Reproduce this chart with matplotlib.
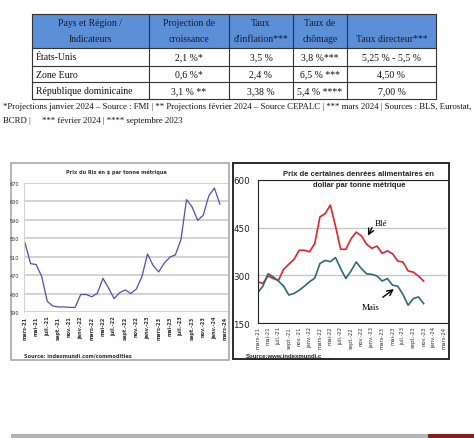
import matplotlib.pyplot as plt
from matplotlib.patches import Rectangle

W, H = 474, 439

# ---- table data ----
headers = ["Pays et Région /\nIndicateurs", "Projection de\ncroissance", "Taux\nd'inflation***",
           "Taux de\nchômage", "Taux directeur***"]
pays = ["États-Unis", "Zone Euro", "République dominicaine"]
croissance = ["2,1 %*", "0,6 %*", "3,1 % **"]
inflation = ["3,5 %", "2,4 %", "3,38 %"]
chomage = ["3,8 %***", "6,5 % ***", "5,4 % ****"]
directeur = ["5,25 % - 5,5 %", "4,50 %", "7,00 %"]
notes = ["*Projections janvier 2024 – Source : FMI | ** Projections février 2024 – Source CEPALC | *** mars 2024 | Sources : BLS, Eurostat,",
         "BCRD |     *** février 2024 | **** septembre 2023"]

# ---- rice price, monthly from mars-21 ----
riz = [540, 495, 493, 467, 413, 403, 401, 401, 400, 400, 428, 428,
       423, 431, 463, 442, 419, 432, 438, 430, 440, 467, 516, 491,
       477, 496, 509, 514, 547, 634, 618, 589, 600, 642, 659, 624]

# ---- wheat / maize, monthly from mars-21 ----
ble = [280, 274, 298, 290, 284, 319, 335, 350, 379, 379, 374, 400,
       484, 494, 521, 455, 382, 382, 415, 436, 424, 398, 385, 392,
       369, 377, 368, 345, 342, 314, 310, 298, 282]
mais = [245, 266, 305, 295, 282, 266, 238, 243, 253, 266, 280, 291,
        337, 347, 343, 356, 321, 290, 314, 342, 321, 305, 303, 298,
        282, 290, 269, 266, 240, 206, 227, 232, 211]

mois = ["mars-21", "mai-21", "juil.-21", "sept.-21", "nov.-21", "janv.-22", "mars-22",
        "mai-22", "juil.-22", "sept.-22", "nov.-22", "janv.-23", "mars-23", "mai-23",
        "juil.-23", "sept.-23", "nov.-23", "janv.-24", "mars-24"]


def rect(l, t, r, b):
    return [l / W, 1 - b / H, (r - l) / W, (b - t) / H]


fig = plt.figure(figsize=(4.74, 4.39), dpi=100)
bg = fig.add_axes([0, 0, 1, 1])
bg.set_xlim(0, W)
bg.set_ylim(H, 0)
bg.axis('off')

serif = 'Liberation Serif'
sans = 'Liberation Sans'

# table
cols = [32, 149, 229, 293, 347, 436]
rows = [15, 49, 67, 83, 100]
bg.add_patch(Rectangle((cols[0], rows[0]), cols[-1] - cols[0], rows[1] - rows[0],
                       fc='#5b8fd8', ec='none'))
for y in rows:
    bg.plot([cols[0], cols[-1]], [y, y], color='#333333', lw=0.8)
for x in cols:
    bg.plot([x, x], [rows[0], rows[-1]], color='#333333', lw=0.8)

for j, h in enumerate(headers):
    lines = h.split('\n')
    if len(lines) == 1:
        lines = ['', lines[0]]
    cx = (cols[j] + cols[j + 1]) / 2
    for k, s in enumerate(lines):
        bg.text(cx, 23 + 16 * k, s, ha='center', va='center', fontsize=7,
                family=serif, color='#1a1a2a')

body = [pays, croissance, inflation, chomage, directeur]
for i in range(3):
    cy = (rows[i + 1] + rows[i + 2]) / 2
    for j, col in enumerate(body):
        if j == 0:
            bg.text(cols[0] + 4, cy, col[i], ha='left', va='center', fontsize=7,
                    family=serif, color='#111111')
        else:
            bg.text((cols[j] + cols[j + 1]) / 2, cy, col[i], ha='center', va='center',
                    fontsize=7, family=serif, color='#111111')

bg.text(3, 107, notes[0], ha='left', va='center', fontsize=6.35, family=serif, color='#111111')
bg.text(3, 121, notes[1], ha='left', va='center', fontsize=6.35, family=serif, color='#111111')

# panel frames
bg.add_patch(Rectangle((11, 164), 218, 197, fill=False, ec='#a8a8a8', lw=1.2))
bg.add_patch(Rectangle((233, 164), 216, 196, fill=False, ec='#2a2a2a', lw=1.4))

# bottom bars
bg.add_patch(Rectangle((11, 435.5), 417, 3.5, fc='#b4b4b4', ec='none'))
bg.add_patch(Rectangle((428, 435.5), 46, 3.5, fc='#8a1c1c', ec='none'))

# ---- left chart: rice ----
ax1 = fig.add_axes(rect(24, 184, 228, 313))
ax1.patch.set_alpha(0)
ax1.plot(range(len(riz)), riz, color='#4f4fad', lw=0.9)
ax1.set_xlim(-0.18, 36.45)
ax1.set_ylim(390, 670)
ax1.set_yticks(range(390, 671, 40))
ax1.yaxis.grid(True, color='#cfcfcf', lw=1.3)
ax1.set_axisbelow(True)
ax1.set_xticks(range(0, 37, 2))
ax1.set_xticklabels(mois, rotation=90, fontsize=3.6, fontweight='bold', color='#333333')
ax1.tick_params(axis='y', labelsize=3.6, labelcolor='#333333', pad=3.5)
ax1.tick_params(axis='x', pad=2.5)
ax1.tick_params(length=0)
for s in ['top', 'right', 'bottom']:
    ax1.spines[s].set_visible(False)
ax1.spines['left'].set_color('#d4d4d4')
bg.text(116, 172, "Prix du Riz en $ par tonne métrique", ha='center', va='center',
        fontsize=3.6, fontweight='bold', color='#333333')
bg.text(24, 356, "Source: indexmundi.com/commodities", ha='left', va='center',
        fontsize=3.6, fontweight='bold', color='#333333')

# ---- right chart: wheat / maize ----
ax2 = fig.add_axes(rect(257.7, 181, 447, 324))
ax2.patch.set_alpha(0)
ax2.plot(range(len(ble)), ble, color='#e0242c', lw=1.2)
ax2.plot(range(len(mais)), mais, color='#2e6a73', lw=1.2)
ax2.set_xlim(0, 36.5)
ax2.set_ylim(150, 600)
ax2.set_yticks([150, 300, 450, 600])
ax2.yaxis.grid(True, color='#c4c4c4', lw=0.9)
ax2.set_axisbelow(True)
ax2.set_xticks(range(0, 37, 2))
ax2.set_xticklabels(mois, rotation=90, fontsize=3.8, color='#333333')
ax2.tick_params(axis='y', labelsize=6.3, labelcolor='#222222', pad=5.5)
ax2.tick_params(axis='x', pad=2)
ax2.tick_params(length=0)
ax2.spines['right'].set_visible(False)
for s in ['left', 'bottom', 'top']:
    ax2.spines[s].set_color('#222222')
    ax2.spines[s].set_linewidth(0.8)

ax2.annotate("", xy=(21.0, 417), xytext=(22.3, 458),
             arrowprops=dict(arrowstyle='->', color='black', lw=1.0))
ax2.text(22.6, 464, "Blé", ha='left', va='center', fontsize=6.5, family=serif)
ax2.annotate("", xy=(26.7, 262), xytext=(23.7, 226),
             arrowprops=dict(arrowstyle='->', color='black', lw=1.0))
ax2.text(20.0, 201, "Maïs", ha='left', va='center', fontsize=6.5, family=serif)

bg.text(359, 175, "Prix de certaines denrées alimentaires en", ha='center', va='center',
        fontsize=5.5, fontweight='bold', family=sans, color='#222222')
bg.text(359, 186, "dollar par tonne métrique", ha='center', va='center',
        fontsize=5.5, fontweight='bold', family=sans, color='#222222')
bg.text(246, 357, "Source:www.indexmundi.c", ha='left', va='center',
        fontsize=4.3, fontweight='bold', family=sans, color='#222222')
bg.plot([246, 330], [359.8, 359.8], color='#222222', lw=0.5)

fig.savefig('out.png', dpi=100)
